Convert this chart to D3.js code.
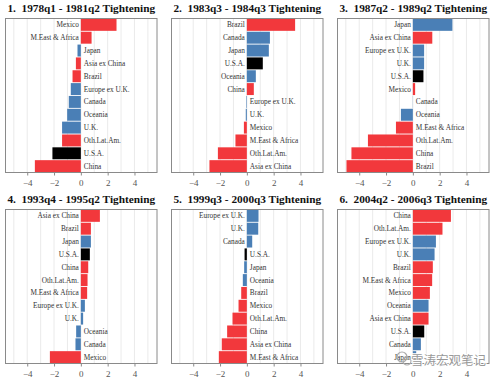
<!DOCTYPE html>
<html><head><meta charset="utf-8">
<script src="https://cdn.jsdelivr.net/npm/d3@7"></script>
<style>body{margin:0;background:#fff}svg{display:block}</style>
</head><body>
<svg id="c" width="500" height="379"></svg>
<script>
const titles = ["1.  1978q1 - 1981q2 Tightening","2.  1983q3 - 1984q3 Tightening","3.  1987q2 - 1989q2 Tightening",
                "4.  1993q4 - 1995q2 Tightening","5.  1999q3 - 2000q3 Tightening","6.  2004q2 - 2006q3 Tightening"];
const cats1 = ["Mexico","M.East & Africa","Japan","Asia ex China","Brazil","Europe ex U.K.","Canada","Oceania","U.K.","Oth.Lat.Am.","U.S.A.","China"];
const vals1 = [2.66,0.80,-0.25,-0.37,-0.62,-0.75,-0.90,-1.02,-1.40,-1.40,-2.12,-3.43];
const cats2 = ["Brazil","Canada","Japan","U.S.A.","Oceania","China","Europe ex U.K.","U.K.","Mexico","M.East & Africa","Oth.Lat.Am.","Asia ex China"];
const vals2 = [3.60,1.72,1.64,1.19,0.67,0.52,-0.04,-0.08,-0.22,-0.85,-2.16,-2.79];
const cats3 = ["Japan","Asia ex China","Europe ex U.K.","U.K.","U.S.A.","Mexico","Canada","Oceania","M.East & Africa","Oth.Lat.Am.","China","Brazil"];
const vals3 = [2.95,1.45,0.84,0.84,0.79,0.17,-0.01,-0.89,-1.26,-3.35,-4.58,-4.95];
const cats4 = ["Asia ex China","Brazil","Japan","U.S.A.","China","Oth.Lat.Am.","M.East & Africa","Europe ex U.K.","U.K.","Oceania","Canada","Mexico"];
const vals4 = [1.42,0.75,0.75,0.67,0.55,0.50,0.47,0.30,0.17,-0.35,-0.40,-2.31];
const cats5 = ["Europe ex U.K.","U.K.","Canada","U.S.A.","Japan","Oceania","Brazil","Mexico","Oth.Lat.Am.","China","Asia ex China","M.East & Africa"];
const vals5 = [0.87,0.85,0.40,-0.17,-0.20,-0.30,-0.42,-0.62,-1.07,-1.47,-1.87,-2.09];
const cats6 = ["China","Oth.Lat.Am.","Europe ex U.K.","U.K.","Brazil","M.East & Africa","Mexico","Oceania","Asia ex China","U.S.A.","Canada","Japan"];
const vals6 = [2.84,2.21,1.72,1.62,1.49,1.44,1.27,1.17,1.17,0.85,0.60,0.25];
const emerging = ["Mexico","M.East & Africa","Asia ex China","Brazil","Oth.Lat.Am.","China"];
const usa = ["U.S.A."];
const xTicks = [-4,-2,0,2,4];
const watermark = "雪涛宏观笔记";

const panels = [[cats1,vals1],[cats2,vals2],[cats3,vals3],[cats4,vals4],[cats5,vals5],[cats6,vals6]];
const RED="#f2383c", BLUE="#4a7fb6", BLACK="#000";
const colorOf = c => usa.includes(c) ? BLACK : (emerging.includes(c) ? RED : BLUE);

const svg = d3.select("#c");
const W = 151.5, H = 154;
const lefts = [5.5,171.5,337.5], tops = [18.5,209.5];

panels.forEach(([cats,vals],i)=>{
  const px = lefts[i%3], py = tops[Math.floor(i/3)];
  const g = svg.append("g").attr("transform",`translate(${px},${py})`);
  const x = d3.scaleLinear().domain([-5.62,5.68]).range([0,W]);
  const y = d3.scaleBand().domain(cats).range([0,H]).paddingInner(0.07).paddingOuter(0.03);
  g.selectAll("line.grid").data(d3.range(-5,6)).join("line")
    .attr("x1",d=>x(d)).attr("x2",d=>x(d)).attr("y1",0).attr("y2",H)
    .attr("stroke","#e4e4e4").attr("stroke-width",0.8);
  g.selectAll("rect.bar").data(cats).join("rect")
    .attr("x",(c,j)=>x(Math.min(0,vals[j])))
    .attr("width",(c,j)=>Math.abs(x(vals[j])-x(0)))
    .attr("y",c=>y(c)).attr("height",y.bandwidth())
    .attr("fill",c=>colorOf(c));
  g.selectAll("text.lab").data(cats).join("text")
    .attr("x",(c,j)=> vals[j]>0 ? x(0)-2 : x(0)+3)
    .attr("y",c=>y(c)+y.bandwidth()/2)
    .attr("dy","0.35em")
    .attr("text-anchor",(c,j)=> vals[j]>0 ? "end":"start")
    .attr("font-family","'Liberation Serif','DejaVu Serif',serif")
    .attr("font-size",7.3).attr("fill","#333")
    .text(c=>c);
  g.append("rect").attr("x",0).attr("y",0).attr("width",W).attr("height",H)
    .attr("fill","none").attr("stroke","#8a8a8a").attr("stroke-width",1);
  const ax = g.append("g").attr("transform",`translate(0,${H})`)
    .call(d3.axisBottom(x).tickValues(xTicks).tickSize(3).tickSizeOuter(0).tickFormat(d3.format("d")));
  ax.select(".domain").remove();
  ax.selectAll("line").attr("stroke","#8a8a8a");
  ax.selectAll("text").attr("font-family","'Liberation Serif','DejaVu Serif',serif")
    .attr("font-size",9).attr("fill","#555").attr("dy","0.85em");
  svg.append("text").attr("x",px+W/2).attr("y",py-6.5).attr("text-anchor","middle")
    .style("white-space","pre")
    .attr("font-family","'Liberation Serif','DejaVu Serif',serif").attr("font-weight","bold")
    .attr("font-size",11.3).attr("fill","#111").text(titles[i]);
});

const wm = svg.append("g").attr("transform","translate(396,352)");
wm.append("circle").attr("cx",6).attr("cy",5).attr("r",5).attr("fill","none").attr("stroke","#aaa").attr("stroke-width",1.2);
wm.append("circle").attr("cx",11).attr("cy",9).attr("r",4).attr("fill","none").attr("stroke","#aaa").attr("stroke-width",1.2);
wm.append("text").attr("x",15).attr("y",12.5).attr("font-family","'Noto Sans CJK SC'").attr("font-size",12.5)
  .attr("fill","#999").attr("stroke","#fff").attr("stroke-width",2).attr("paint-order","stroke").text(watermark);
</script>
</body></html>
